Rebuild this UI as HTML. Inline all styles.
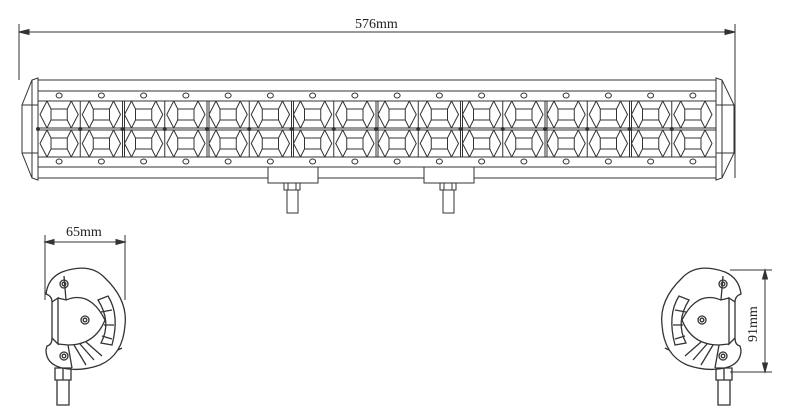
<!DOCTYPE html>
<html><head><meta charset="utf-8"><style>
html,body{margin:0;padding:0;background:#fff;width:800px;height:420px;overflow:hidden}
svg{display:block}
text{font-family:"Liberation Serif",serif;font-size:14px;fill:#222}
</style></head><body>
<svg id="s" width="800" height="420" viewBox="0 0 800 420" fill="none" stroke="#333" stroke-width="1">
<!-- top dimension -->
<line x1="19" y1="24" x2="19" y2="80"/><line x1="735" y1="24" x2="735" y2="178"/>
<line x1="19" y1="32" x2="735" y2="32"/>
<path d="M19 32 l10 -2.5 v5 z M735 32 l-10 -2.5 v5 z" fill="#333"/>
<text x="355" y="28" stroke="none">576mm</text>
<!-- bar body -->
<rect x="38" y="80" width="678" height="98"/>
<line x1="38" y1="91" x2="716" y2="91"/>
<line x1="38" y1="101" x2="716" y2="101"/>
<line x1="38" y1="157" x2="716" y2="157"/>
<line x1="38" y1="167" x2="716" y2="167"/>
<line x1="38" y1="128" x2="716" y2="128"/>
<line x1="38" y1="130" x2="716" y2="130"/>
<!-- end caps -->
<path d="M38 78 L32 80 L22 105 L22 153 L32 178 L38 180 Z"/>
<line x1="32" y1="80" x2="32" y2="178"/>
<path d="M22 105 H38 M22 153 H38"/>
<path d="M716 78 L722 80 L734 105 L734 153 L722 178 L716 180 Z"/>
<line x1="722" y1="80" x2="722" y2="178"/>
<path d="M716 105 H734 M716 153 H734"/>
<g id="cells"></g>
<!-- brackets -->
<rect x="268" y="167" width="50" height="16" fill="#fff"/>
<rect x="424" y="167" width="50" height="16" fill="#fff"/>
<path d="M284 183 h16 v7 h-16 z M288 183 v7 M296 183 v7 M287 190 h11 v23 h-11 z"/>
<path d="M440 183 h16 v7 h-16 z M444 183 v7 M452 183 v7 M443 190 h11 v23 h-11 z"/>
<!-- left side view -->
<line x1="45" y1="235" x2="45" y2="300"/><line x1="125" y1="235" x2="125" y2="300"/>
<line x1="45" y1="242" x2="125" y2="242"/>
<path d="M45 242 l9 -2.5 v5 z M125 242 l-9 -2.5 v5 z" fill="#333"/>
<text x="66" y="236" stroke="none">65mm</text>
<g id="L" stroke-width="1.3">
<path d="M62 272 Q90 262 105 278 Q128 300 125 325 Q123 355 100 365 Q80 372 62 368 Q46 364 46 350 L47 346 Q52 345 52 338 L52 302 Q52 296 46 294 Q48 278 62 272 Z"/>
<path d="M52 302 L58 298 L58 344 L52 338"/>
<path d="M58 298 L66 300 Q90 290 105 320 Q95 345 68 345 L58 344"/>
<path d="M98 300 L108 296 Q120 315 112 345 L101 343 Q112 322 98 300 Z"/>
<path d="M101 312 L112 310 M104 325 L114 325 M102 336 L112 339"/>
<path d="M64 276 L66 300 M68 345 L72 368 M74 345 L86 365 M80 344 L94 360 M86 342 L102 356"/>
<circle cx="64" cy="284" r="4"/><circle cx="64" cy="284" r="1.8"/>
<circle cx="85" cy="320" r="4"/><circle cx="85" cy="320" r="1.8"/>
<circle cx="64" cy="356" r="4"/><circle cx="64" cy="356" r="1.8"/>
<path d="M55 368 h16 v12 h-16 z M63 368 v12 M57 380 h12 v25 h-12 z"/>
<path d="M118 350 l4 -2"/>
</g>
<!-- right side view (mirror) -->
<g transform="translate(787,0) scale(-1,1)" stroke-width="1.3">
<path d="M62 272 Q90 262 105 278 Q128 300 125 325 Q123 355 100 365 Q80 372 62 368 Q46 364 46 350 L47 346 Q52 345 52 338 L52 302 Q52 296 46 294 Q48 278 62 272 Z"/>
<path d="M52 302 L58 298 L58 344 L52 338"/>
<path d="M58 298 L66 300 Q90 290 105 320 Q95 345 68 345 L58 344"/>
<path d="M98 300 L108 296 Q120 315 112 345 L101 343 Q112 322 98 300 Z"/>
<path d="M101 312 L112 310 M104 325 L114 325 M102 336 L112 339"/>
<path d="M64 276 L66 300 M68 345 L72 368 M74 345 L86 365 M80 344 L94 360 M86 342 L102 356"/>
<circle cx="64" cy="284" r="4"/><circle cx="64" cy="284" r="1.8"/>
<circle cx="85" cy="320" r="4"/><circle cx="85" cy="320" r="1.8"/>
<circle cx="64" cy="356" r="4"/><circle cx="64" cy="356" r="1.8"/>
<path d="M55 368 h16 v12 h-16 z M63 368 v12 M57 380 h12 v25 h-12 z"/>
<path d="M118 350 l4 -2"/>
</g>
<line x1="730" y1="270" x2="772" y2="270"/><line x1="730" y1="372" x2="772" y2="372"/>
<line x1="765" y1="270" x2="765" y2="372"/>
<path d="M765 270 l-2.5 9 h5 z M765 372 l-2.5 -9 h5 z" fill="#333"/>
<text x="0" y="0" stroke="none" transform="translate(757,342) rotate(-90)">91mm</text>
</svg>
<script>
var g=document.getElementById('cells'),h='';
var x0=38,w=42.25;
for(var i=0;i<16;i++){
 var x=x0+i*w;
 h+='<line x1="'+x+'" y1="101" x2="'+x+'" y2="157"/>';
 if(i%2==0&&i>0)h+='<line x1="'+(x+2)+'" y1="101" x2="'+(x+2)+'" y2="157"/>';
 [[101,128],[130,157]].forEach(function(r){
  var t=r[0],b=r[1],m=(t+b)/2;
  var ix1=x+13,ix2=x+w-13,iy1=t+8,iy2=b-8;
  h+='<rect x="'+ix1+'" y="'+iy1+'" width="'+(ix2-ix1)+'" height="'+(iy2-iy1)+'"/>';
  h+='<path d="M'+(x+9)+' '+t+' L'+ix1+' '+iy1+' M'+(x+w-9)+' '+t+' L'+ix2+' '+iy1+' M'+(x+9)+' '+b+' L'+ix1+' '+iy2+' M'+(x+w-9)+' '+b+' L'+ix2+' '+iy2+'"/>';
  h+='<path d="M'+(x+9)+' '+t+' L'+(x+2)+' '+m+' L'+(x+9)+' '+b+' M'+(x+w-9)+' '+t+' L'+(x+w-2)+' '+m+' L'+(x+w-9)+' '+b+'"/>';
 });
 var hx=x+w/2;
 h+='<ellipse cx="'+hx+'" cy="95.5" rx="3" ry="2.5"/><ellipse cx="'+hx+'" cy="161.5" rx="3" ry="2.5"/>';
 h+='<circle cx="'+x+'" cy="129" r="1.5" fill="#333"/>';
}
g.innerHTML=h;
</script>
</body></html>
